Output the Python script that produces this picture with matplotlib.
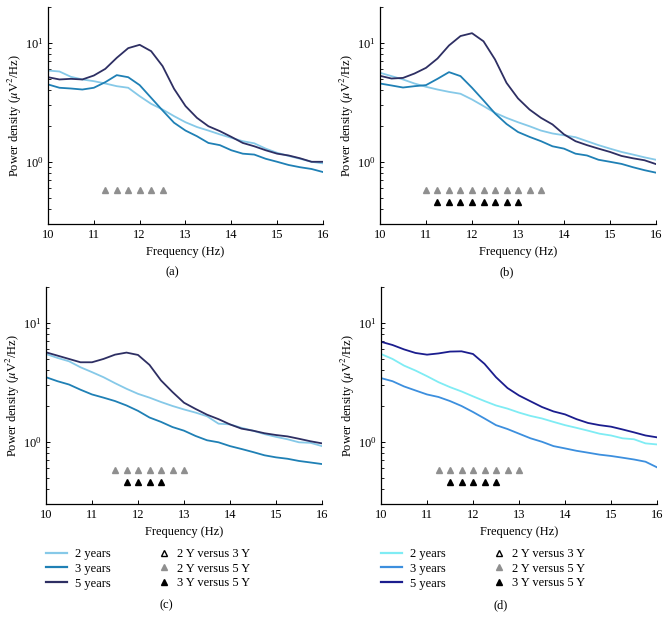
import matplotlib
matplotlib.use("Agg")
import matplotlib.pyplot as plt
from matplotlib.lines import Line2D

plt.rcParams['font.family'] = ['Liberation Serif', 'DejaVu Serif']
plt.rcParams['mathtext.fontset'] = 'stix'
plt.rcParams['font.size'] = 8

freqs = [10.0, 10.25, 10.5, 10.75, 11.0, 11.25, 11.5, 11.75, 12.0, 12.25, 12.5, 12.75,
         13.0, 13.25, 13.5, 13.75, 14.0, 14.25, 14.5, 14.75, 15.0, 15.25, 15.5, 15.75, 16.0]

# panel (a)
a_2y = [5.85, 5.74, 5.18, 4.92, 4.76, 4.55, 4.32, 4.19, 3.56, 3.07, 2.75, 2.42,
        2.15, 1.96, 1.83, 1.70, 1.59, 1.49, 1.43, 1.29, 1.19, 1.12, 1.06, 1.00, 0.97]
a_3y = [4.47, 4.19, 4.13, 4.05, 4.19, 4.67, 5.35, 5.14, 4.41, 3.45, 2.70, 2.13,
        1.83, 1.64, 1.44, 1.38, 1.25, 1.17, 1.15, 1.06, 1.00, 0.94, 0.90, 0.87, 0.82]
a_5y = [5.14, 4.92, 4.98, 4.92, 5.31, 6.04, 7.48, 9.02, 9.62, 8.51, 6.37, 4.11,
        2.94, 2.34, 1.99, 1.81, 1.62, 1.44, 1.35, 1.25, 1.17, 1.13, 1.07, 1.00, 1.00]
a_sig25 = [11.25, 11.5, 11.75, 12.0, 12.25, 12.5]
a_sig35 = []

# panel (b)
b_2y = [5.60, 5.25, 4.92, 4.55, 4.27, 4.05, 3.87, 3.73, 3.34, 2.94, 2.58, 2.34,
        2.15, 1.99, 1.83, 1.73, 1.67, 1.61, 1.49, 1.38, 1.29, 1.21, 1.15, 1.09, 1.04]
b_3y = [4.55, 4.38, 4.21, 4.32, 4.41, 4.98, 5.67, 5.25, 4.19, 3.28, 2.55, 2.08,
        1.78, 1.62, 1.49, 1.35, 1.29, 1.17, 1.13, 1.04, 1.00, 0.96, 0.90, 0.85, 0.81]
b_5y = [5.28, 5.01, 5.07, 5.52, 6.16, 7.38, 9.50, 11.4, 12.05, 10.3, 7.25, 4.61,
        3.41, 2.75, 2.34, 2.06, 1.70, 1.49, 1.38, 1.29, 1.21, 1.12, 1.07, 1.03, 0.956]
b_sig25 = [11.0, 11.25, 11.5, 11.75, 12.0, 12.25, 12.5, 12.75, 13.0, 13.25, 13.5]
b_sig35 = [11.25, 11.5, 11.75, 12.0, 12.25, 12.5, 12.75, 13.0]

# panel (c)
c_2y = [5.47, 5.07, 4.75, 4.23, 3.85, 3.49, 3.11, 2.79, 2.53, 2.35, 2.16, 2.00,
        1.87, 1.76, 1.64, 1.42, 1.40, 1.31, 1.24, 1.16, 1.10, 1.05, 0.99, 0.98, 0.92]
c_3y = [3.49, 3.23, 3.03, 2.74, 2.50, 2.35, 2.20, 2.02, 1.82, 1.60, 1.47, 1.33,
        1.24, 1.12, 1.03, 0.99, 0.92, 0.87, 0.82, 0.77, 0.74, 0.72, 0.69, 0.67, 0.65]
c_5y = [5.65, 5.30, 4.97, 4.66, 4.66, 4.97, 5.40, 5.62, 5.37, 4.43, 3.28, 2.62,
        2.13, 1.89, 1.69, 1.55, 1.40, 1.29, 1.24, 1.18, 1.14, 1.11, 1.06, 1.01, 0.97]
c_sig25 = [11.5, 11.75, 12.0, 12.25, 12.5, 12.75, 13.0]
c_sig35 = [11.75, 12.0, 12.25, 12.5]

# panel (d)
d_2y = [5.47, 4.97, 4.37, 3.97, 3.56, 3.17, 2.88, 2.65, 2.41, 2.20, 2.02, 1.90,
        1.76, 1.65, 1.57, 1.47, 1.38, 1.31, 1.24, 1.17, 1.13, 1.07, 1.05, 0.97, 0.95]
d_3y = [3.43, 3.23, 2.92, 2.70, 2.50, 2.38, 2.20, 2.00, 1.78, 1.57, 1.38, 1.28,
        1.17, 1.07, 1.00, 0.92, 0.88, 0.84, 0.81, 0.78, 0.76, 0.735, 0.71, 0.68, 0.61]
d_5y = [6.93, 6.51, 5.98, 5.58, 5.40, 5.53, 5.73, 5.76, 5.47, 4.52, 3.49, 2.83,
        2.45, 2.19, 1.96, 1.80, 1.70, 1.55, 1.44, 1.38, 1.34, 1.27, 1.20, 1.13, 1.09]
d_sig25 = [11.25, 11.5, 11.75, 12.0, 12.25, 12.5, 12.75, 13.0]
d_sig35 = [11.5, 11.75, 12.0, 12.25, 12.5]

cols_abc = ['#86c9e8', '#1f80b5', '#2e2f63']
cols_d = ['#7fecf4', '#3c8fde', '#1b1d8e']
gray = '#8f8f8f'
Y25 = 0.58
Y35 = 0.455

W, H = 669, 625
fig = plt.figure(figsize=(W / 100, H / 100), dpi=100)

panels = [
    ((48, 7, 323, 224), a_2y, a_3y, a_5y, a_sig25, a_sig35, cols_abc, '(a)', 172),
    ((380, 7, 656, 224), b_2y, b_3y, b_5y, b_sig25, b_sig35, cols_abc, '(b)', 507),
    ((46, 287, 322, 504), c_2y, c_3y, c_5y, c_sig25, c_sig35, cols_abc, '(c)', 166),
    ((381, 287, 657, 504), d_2y, d_3y, d_5y, d_sig25, d_sig35, cols_d, '(d)', 501),
]

for (x0, y0, x1, y1), s2, s3, s5, sig25, sig35, cols, tag, tx in panels:
    ax = fig.add_axes([x0 / W, 1 - y1 / H, (x1 - x0) / W, (y1 - y0) / H])
    ax.plot(freqs, s2, color=cols[0], lw=1.3)
    ax.plot(freqs, s3, color=cols[1], lw=1.3)
    ax.plot(freqs, s5, color=cols[2], lw=1.3)
    if sig25:
        ax.plot(sig25, [Y25] * len(sig25), ls='none', marker='^', ms=5,
                color=gray, mec=gray)
    if sig35:
        ax.plot(sig35, [Y35] * len(sig35), ls='none', marker='^', ms=5,
                color='black')
    ax.set_yscale('log')
    ax.set_xlim(10, 16)
    ax.set_ylim(0.3, 20)
    ax.set_xticks([10, 11, 12, 13, 14, 15, 16])
    for sp in ('top', 'right'):
        ax.spines[sp].set_visible(False)
    ax.spines['left'].set_linewidth(0.9)
    ax.spines['bottom'].set_linewidth(0.9)
    ax.tick_params(direction='in', which='major', length=3, width=0.7, labelsize=9)
    ax.tick_params(direction='in', which='minor', length=2, width=0.6)
    ax.tick_params(axis='y', pad=3)
    ax.set_xlabel('Frequency (Hz)', fontsize=9, labelpad=4)
    ax.set_ylabel('Power density ($\\mu$V$^2$/Hz)', fontsize=9, labelpad=1)
    cap_y = y1 + 48 if tag in ('(a)', '(b)') else y1 + 101
    fig.text(tx / W, 1 - cap_y / H, tag, ha='center', va='center', fontsize=9)

    if tag in ('(c)', '(d)'):
        line_h = [Line2D([], [], color=c, lw=1.6) for c in cols]
        leg1 = ax.legend(line_h, ['2 years', '3 years', '5 years'], loc='upper left',
                         bbox_to_anchor=(x0 / W, 1 - 548 / H),
                         bbox_transform=fig.transFigure, frameon=False,
                         borderpad=0, borderaxespad=0, handlelength=1.7,
                         handletextpad=0.6, labelspacing=0.22, fontsize=9)
        ax.add_artist(leg1)
        tri_h = [Line2D([], [], ls='none', marker='^', ms=5, mfc='white', mec='black'),
                 Line2D([], [], ls='none', marker='^', ms=5, color=gray),
                 Line2D([], [], ls='none', marker='^', ms=5, color='black')]
        ax.legend(tri_h, ['2 Y versus 3 Y', '2 Y versus 5 Y', '3 Y versus 5 Y'],
                  loc='upper left', bbox_to_anchor=((x0 + 110) / W, 1 - 548 / H),
                  bbox_transform=fig.transFigure, frameon=False,
                  borderpad=0, borderaxespad=0, handlelength=1.2,
                  handletextpad=0.5, labelspacing=0.22, fontsize=9)

fig.savefig('out.png', dpi=100)
